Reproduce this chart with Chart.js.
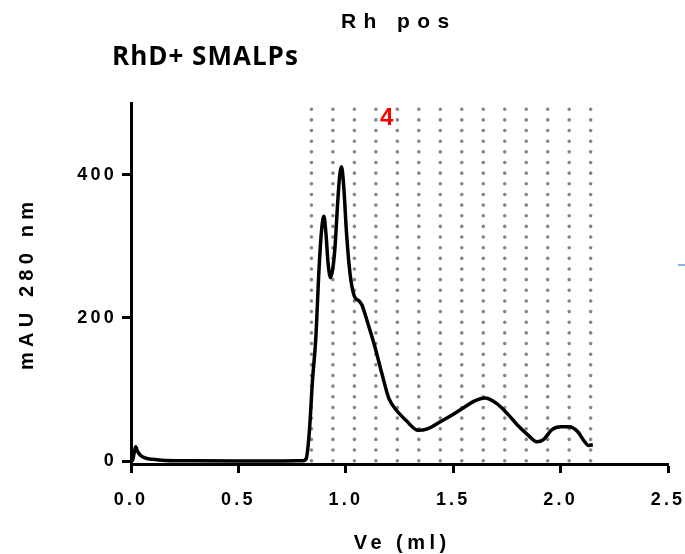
<!DOCTYPE html>
<html>
<head>
<meta charset="utf-8">
<script src="https://cdn.jsdelivr.net/npm/chart.js@4.4.1/dist/chart.umd.min.js"></script>
<style>
  html, body { margin: 0; padding: 0; background: #fff; }
  #wrap { position: relative; width: 685px; height: 554px; overflow: hidden; }
  #chart { position: absolute; left: 0; top: 0; }
  .txt { position: absolute; white-space: nowrap; color: #000; font-weight: bold; }
  #title { left: 341px; top: 10px; font: bold 21px/21px "Liberation Sans", Arial, sans-serif; letter-spacing: 7.4px; }
  #subtitle { left: 112px; top: 42px; font: bold 26px/26px "Open Sans", sans-serif; letter-spacing: 1px; }
  #xtitle { left: 250px; top: 532px; width: 300px; text-align: center; font: bold 20px/20px "Liberation Sans", Arial, sans-serif; letter-spacing: 4.5px; padding-left: 4.5px; box-sizing: border-box; }
  #ytitle { left: -124px; top: 276px; width: 300px; text-align: center; font: bold 20px/20px "Liberation Sans", Arial, sans-serif; letter-spacing: 5.2px; padding-left: 5.2px; box-sizing: border-box; transform: rotate(-90deg); }
  #blip { position: absolute; left: 678px; top: 264px; width: 7px; height: 2px; background: #8ab4e8; }
</style>
</head>
<body>
<div id="wrap">
  <canvas id="chart" width="685" height="554"></canvas>
  <div class="txt" id="title">Rh pos</div>
  <div class="txt" id="subtitle">RhD+ SMALPs</div>
  <div class="txt" id="xtitle">Ve (ml)</div>
  <div class="txt" id="ytitle">mAU 280 nm</div>
  <div id="blip"></div>
</div>
<script>
// elution volume (ml) and absorbance (mAU at 280 nm)
const veValues = [0, 0.008, 0.015, 0.022, 0.03, 0.045, 0.07, 0.1, 0.16, 0.3, 0.5, 0.7, 0.8,
  0.815, 0.83, 0.845, 0.86, 0.876, 0.888, 0.898, 0.907, 0.918, 0.929, 0.94, 0.95, 0.962,
  0.972, 0.98, 0.99, 1.003, 1.015, 1.025, 1.04, 1.06, 1.075, 1.1, 1.135, 1.17, 1.2, 1.233,
  1.28, 1.337, 1.38, 1.44, 1.493, 1.55, 1.6, 1.647, 1.7, 1.75, 1.8, 1.85, 1.89, 1.92, 1.96,
  2.0, 2.04, 2.08, 2.11, 2.13, 2.15];
const mauValues = [0, 2, 12, 20, 14, 8, 4, 2.5, 1, 0.5, 0.3, 0.2, 0.5,
  3, 40, 113, 170, 272, 325, 342, 320, 275, 256, 270, 300, 360,
  400, 411, 385, 320, 275, 250, 230, 224, 218, 195, 160, 120, 88, 72,
  57, 43, 45, 55, 64, 75, 84, 88, 81, 67, 50, 36, 27, 30, 44,
  48, 48, 41, 28, 22, 23];

// fraction boundaries (ml) and the labelled fraction
const fractionEdges = [0.84, 0.94, 1.04, 1.14, 1.24, 1.34, 1.44, 1.54, 1.64, 1.74, 1.84, 1.94, 2.04, 2.14];
const fractionLabels = ['4'];
const fractionLabelVe = [1.19];
const fractionLabelMau = [478];

const xTicks = [0, 0.5, 1.0, 1.5, 2.0, 2.5];
const yTicks = [0, 200, 400];

const points = veValues.map((v, i) => ({ x: v, y: mauValues[i] }));

// dotted fraction lines + red fraction number
const fractionPlugin = {
  id: 'fractions',
  beforeDatasetsDraw(chart) {
    const ctx = chart.ctx;
    const xs = chart.scales.x;
    const area = chart.chartArea;
    ctx.save();
    ctx.strokeStyle = '#858585';
    ctx.lineWidth = 3.6;
    ctx.lineCap = 'round';
    ctx.setLineDash([0, 10.65]);
    for (const v of fractionEdges) {
      const px = xs.getPixelForValue(v);
      ctx.beginPath();
      ctx.moveTo(px, area.bottom - 3.3);
      ctx.lineTo(px, area.top);
      ctx.stroke();
    }
    ctx.restore();
  },
  afterDatasetsDraw(chart) {
    const ctx = chart.ctx;
    ctx.save();
    ctx.letterSpacing = '0px';
    ctx.fillStyle = '#ff0000';
    ctx.font = 'bold 24px "Liberation Sans", Arial, sans-serif';
    ctx.textAlign = 'center';
    ctx.textBaseline = 'middle';
    fractionLabels.forEach((t, i) => {
      ctx.fillText(t, chart.scales.x.getPixelForValue(fractionLabelVe[i]),
        chart.scales.y.getPixelForValue(fractionLabelMau[i]));
    });
    ctx.restore();
  }
};

// Prism style wide tick labels
const spacingPlugin = {
  id: 'spacing',
  beforeDraw(chart) { chart.ctx.letterSpacing = '3.2px'; },
  afterDraw(chart) { chart.ctx.letterSpacing = '0px'; }
};

const tickFont = { family: '"Liberation Sans", Arial, sans-serif', size: 18, weight: 'bold' };

new Chart(document.getElementById('chart').getContext('2d'), {
  type: 'line',
  data: {
    datasets: [{
      data: points,
      borderColor: '#000',
      borderWidth: 3.5,
      pointRadius: 0,
      fill: false,
      cubicInterpolationMode: 'monotone'
    }]
  },
  options: {
    responsive: false,
    animation: false,
    layout: { padding: { top: 103, right: 17, bottom: 0, left: 0 } },
    plugins: { legend: { display: false }, tooltip: { enabled: false }, title: { display: false } },
    scales: {
      x: {
        type: 'linear',
        min: 0,
        max: 2.5,
        afterBuildTicks(scale) { scale.ticks = xTicks.map(v => ({ value: v })); },
        afterFit(scale) { scale.height = 90; scale.paddingLeft = 0; scale.paddingRight = 0; },
        ticks: {
          color: '#000',
          font: tickFont,
          padding: 16,
          maxRotation: 0,
          callback: v => Number(v).toFixed(1)
        },
        grid: { display: true, drawOnChartArea: false, drawTicks: true, tickLength: 9, tickWidth: 3, tickColor: '#000' },
        border: { display: true, color: '#000', width: 3 }
      },
      y: {
        type: 'linear',
        min: -4,
        max: 500,
        afterBuildTicks(scale) { scale.ticks = yTicks.map(v => ({ value: v })); },
        afterFit(scale) { scale.width = 131; scale.paddingTop = 0; scale.paddingBottom = 0; },
        ticks: { color: '#000', font: tickFont, padding: 5 },
        grid: { display: true, drawOnChartArea: false, drawTicks: true, tickLength: 9, tickWidth: 3, tickColor: '#000' },
        border: { display: true, color: '#000', width: 3 }
      }
    }
  },
  plugins: [fractionPlugin, spacingPlugin]
});
</script>
</body>
</html>
